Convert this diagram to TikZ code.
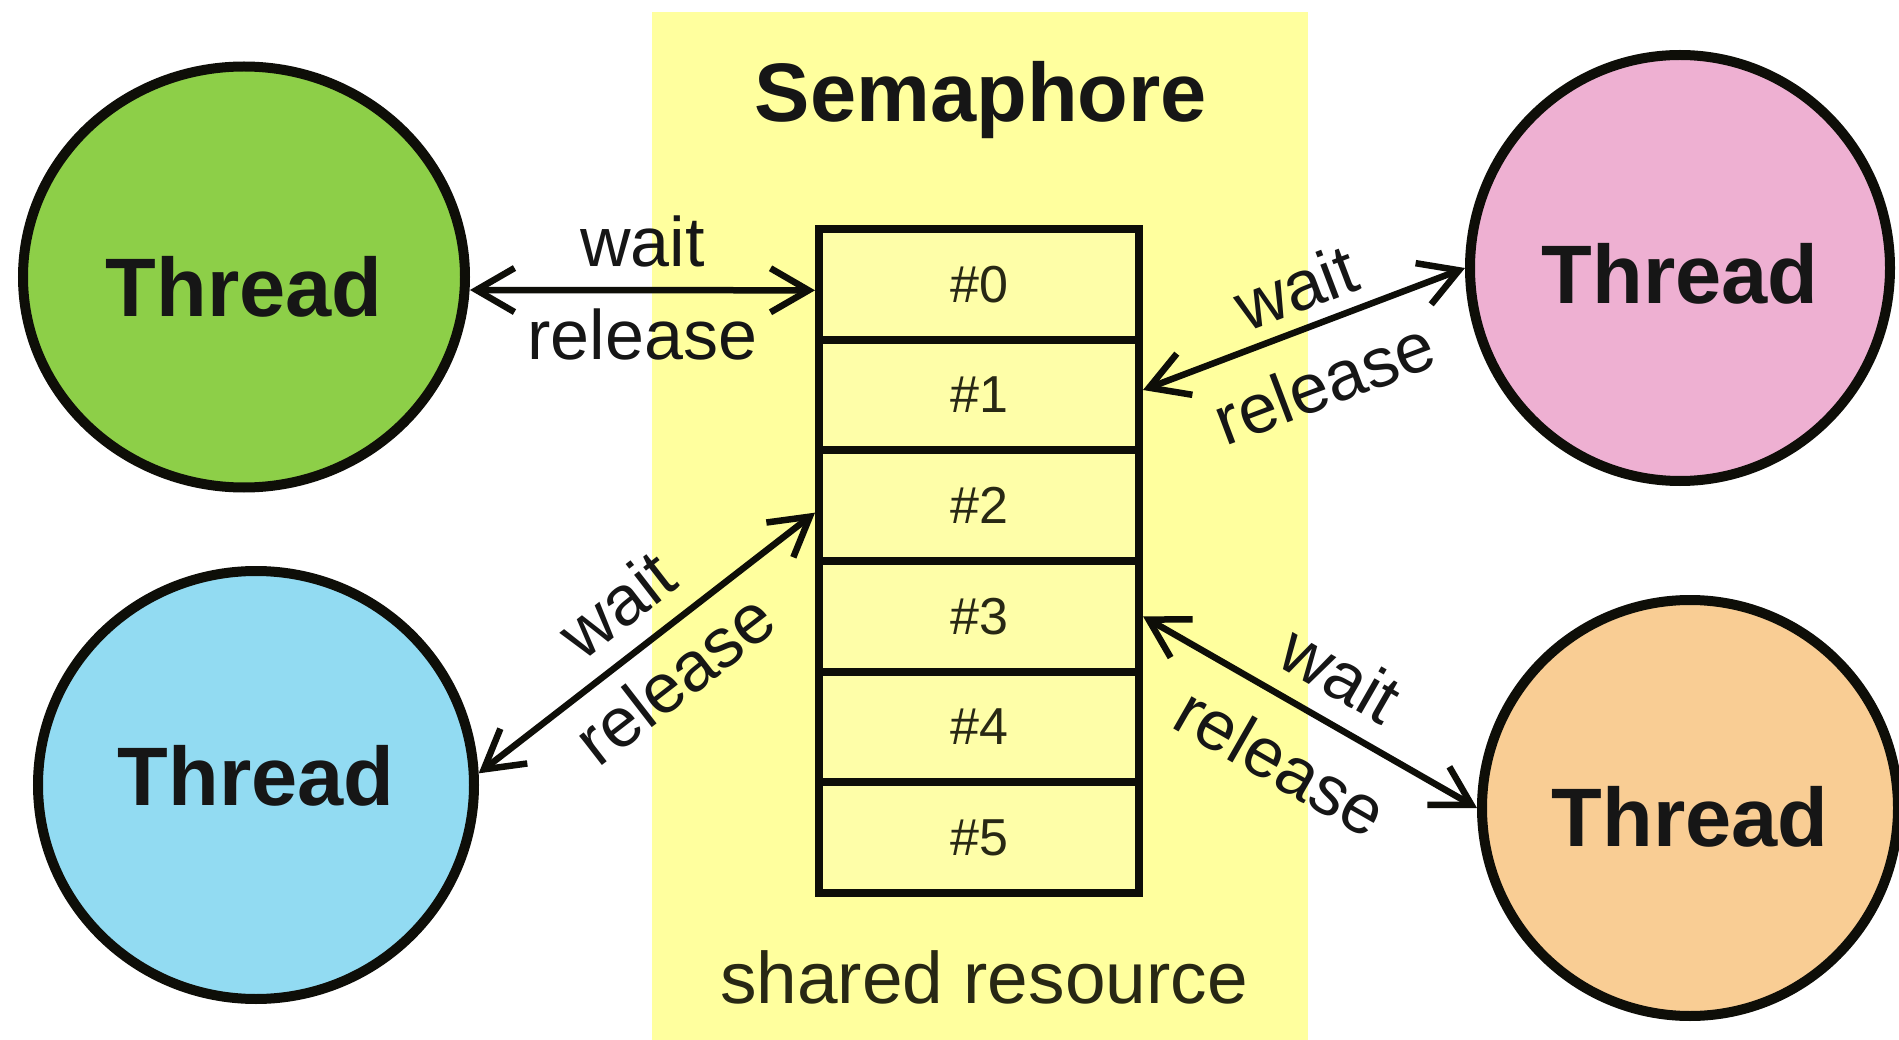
\documentclass[tikz,border=0pt]{standalone}
\usepackage{fontspec}
\setmainfont{Liberation Sans}
\usetikzlibrary{arrows.meta,shapes.geometric}
\definecolor{bandyellow}{RGB}{255,255,158}
\definecolor{boxyellow}{RGB}{254,254,168}
\definecolor{greenT}{RGB}{141,207,72}
\definecolor{pinkT}{RGB}{238,176,210}
\definecolor{blueT}{RGB}{146,219,242}
\definecolor{orangeT}{RGB}{249,205,148}
\definecolor{linec}{RGB}{14,14,8}
\definecolor{txt}{RGB}{22,22,22}
\definecolor{slottxt}{RGB}{40,40,20}
\begin{document}
\begin{tikzpicture}[x=1pt,y=-1pt,
  thread/.style={ellipse, draw=linec, line width=10pt, inner sep=0pt,
    font=\fontsize{83}{90}\selectfont\bfseries, text=txt},
  slot/.style={rectangle, draw=linec, line width=8pt, fill=boxyellow,
    minimum width=320pt, minimum height=110.67pt, inner sep=0pt,
    font=\fontsize{52}{56}\selectfont, text=slottxt},
  link/.style={{Straight Barb[length=38pt,width=44pt]}-{Straight Barb[length=38pt,width=44pt]},
    line width=6.5pt, draw=linec},
  lblabove/.style={midway, sloped, inner sep=0pt, above=#1,
    font=\fontsize{70}{76}\selectfont, text=txt},
  lblbelow/.style={midway, sloped, inner sep=0pt, below=#1,
    font=\fontsize{70}{76}\selectfont, text=txt},
]
\useasboundingbox (0,0) rectangle (1899,1040);
\fill[white] (0,0) rectangle (1899,1040);

% yellow band
\node[fill=bandyellow, draw=none, inner sep=0pt, minimum width=656pt, minimum height=1028pt] (band) at (980,526) {};

% titles
\node[anchor=base, font=\fontsize{83}{90}\selectfont\bfseries, text=txt] (title) at (981,122) {Semaphore};
\node[anchor=base, font=\fontsize{73}{80}\selectfont, text=slottxt] (shared) at (984,1003) {shared resource};

% slots
\node[slot] (r0) at (979,284.33) {\#0};
\node[slot] (r1) at (979,395.00) {\#1};
\node[slot] (r2) at (979,505.67) {\#2};
\node[slot] (r3) at (979,616.33) {\#3};
\node[slot] (r4) at (979,727.00) {\#4};
\node[slot] (r5) at (979,837.67) {\#5};

% threads
\node[thread, fill=greenT,  minimum width=442pt, minimum height=421pt, text height=80pt, text depth=0pt] (g) at (244,277) {Thread};
\node[thread, fill=pinkT,   minimum width=420pt, minimum height=426pt, text height=71pt, text depth=0pt] (p) at (1680,268) {Thread};
\node[thread, fill=blueT,   minimum width=436pt, minimum height=428pt, text height=60pt, text depth=20pt] (b) at (256,785) {Thread};
\node[thread, fill=orangeT, minimum width=416pt, minimum height=416pt, text height=77pt, text depth=0pt] (o) at (1690,808) {Thread};

% connectors
\draw[link] ([yshift=-13pt]g.east) -- ([yshift=-6pt]r0.west)
  node[lblabove=20pt] {wait} node[lblbelow=15pt] {release};
\draw[link] ([yshift=5pt]r1.east) -- (p.west)
  node[lblabove=13pt, pos=0.52] {wait} node[lblbelow=28pt] {release};
\draw[link] (b.3) -- ([yshift=-7pt]r2.west)
  node[lblabove=20pt] {wait} node[lblbelow=16pt] {release};
\draw[link] (r3.east) -- (o.west)
  node[lblabove=20pt, pos=0.52] {wait} node[lblbelow=28pt] {release};
\end{tikzpicture}
\end{document}
